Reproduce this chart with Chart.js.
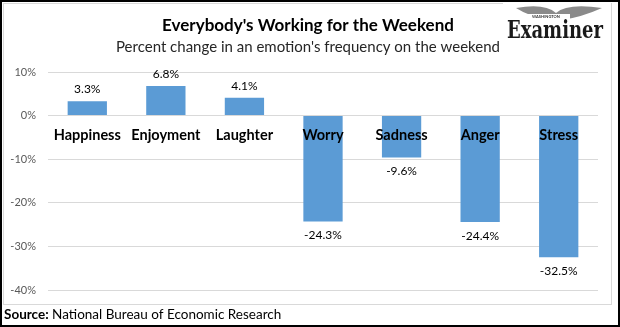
<!DOCTYPE html>
<html>
<head>
<meta charset="utf-8">
<script src="https://cdn.jsdelivr.net/npm/chart.js@4.4.0/dist/chart.umd.min.js"></script>
<style>
  html, body { margin: 0; padding: 0; background: #fff; }
  #wrap { width: 620px; height: 327px; position: relative; }
</style>
</head>
<body>
<div id="wrap">
  <canvas id="weekendChart" width="620" height="327"></canvas>
</div>
<script>
const emotions = ["Happiness", "Enjoyment", "Laughter", "Worry", "Sadness", "Anger", "Stress"];
const pctChange = [3.3, 6.8, 4.1, -24.3, -9.6, -24.4, -32.5];
const yTicks = [10, 0, -10, -20, -30, -40];

const TITLE = "Everybody's Working for the Weekend";
const SUBTITLE = "Percent change in an emotion's frequency on the weekend";
const SOURCE_LABEL = "Source:";
const SOURCE_TEXT = " National Bureau of Economic Research";

const FONT = "Lato, 'Open Sans', sans-serif";
const BAR_COLOR = '#5B9BD5';

// frame, titles, logo and source line
const decorations = {
  id: 'decorations',
  beforeDraw(chart) {
    const ctx = chart.ctx;
    ctx.save();
    ctx.fillStyle = '#fff';
    ctx.fillRect(0, 0, 620, 327);
    ctx.strokeStyle = '#d9d9d9';
    ctx.lineWidth = 1;
    ctx.strokeRect(3.5, 3.5, 608, 301);
    ctx.strokeStyle = '#000';
    ctx.lineWidth = 2;
    ctx.strokeRect(1, 1, 618, 325);
    ctx.restore();
  },
  afterDraw(chart) {
    const ctx = chart.ctx;
    ctx.save();
    ctx.textBaseline = 'middle';
    ctx.textAlign = 'center';
    ctx.fillStyle = '#000';
    ctx.font = `bold 17px ${FONT}`;
    ctx.fillText(TITLE, 308, 26);
    ctx.fillStyle = '#262626';
    ctx.font = `15px ${FONT}`;
    ctx.fillText(SUBTITLE, 308, 47);

    // source line
    ctx.textAlign = 'left';
    ctx.fillStyle = '#000';
    ctx.font = `bold 13.5px ${FONT}`;
    ctx.fillText(SOURCE_LABEL, 4, 315);
    const w = ctx.measureText(SOURCE_LABEL).width;
    ctx.font = `13.5px ${FONT}`;
    ctx.fillText(SOURCE_TEXT, 4 + w, 315);

    // logo
    ctx.fillStyle = '#fff';
    ctx.fillRect(503, 2, 108, 44);
    ctx.fillStyle = '#8a8a8a';
    ctx.beginPath();
    ctx.moveTo(516, 8);
    ctx.quadraticCurveTo(545, 3, 556, 13);
    ctx.quadraticCurveTo(567, 3, 602, 8);
    ctx.quadraticCurveTo(582, 17, 562, 20);
    ctx.lineTo(550, 20);
    ctx.quadraticCurveTo(530, 17, 516, 8);
    ctx.fill();
    ctx.fillStyle = '#fff';
    ctx.fillRect(526, 14, 44, 6);
    ctx.fillStyle = '#333';
    ctx.font = `bold 4px ${FONT}`;
    ctx.textAlign = 'center';
    ctx.fillText('WASHINGTON', 546, 17);
    ctx.font = `bold 24px 'DejaVu Serif', serif`;
    ctx.translate(555, 32);
    const lw = ctx.measureText('Examiner').width;
    ctx.scale(96 / lw, 1);
    ctx.fillStyle = '#1a1a1a';
    ctx.fillText('Examiner', 0, 0);
    ctx.restore();
  }
};

// category names on the zero line and value labels
const barLabels = {
  id: 'barLabels',
  afterDatasetsDraw(chart) {
    const ctx = chart.ctx;
    const meta = chart.getDatasetMeta(0);
    const y0 = chart.scales.y.getPixelForValue(0);
    ctx.save();
    ctx.textAlign = 'center';
    ctx.textBaseline = 'middle';
    meta.data.forEach((bar, i) => {
      ctx.fillStyle = '#000';
      ctx.font = `bold 14.5px ${FONT}`;
      ctx.fillText(emotions[i], bar.x, y0 + 20);
      const v = pctChange[i];
      ctx.font = `12px ${FONT}`;
      ctx.fillStyle = '#000';
      const y = v >= 0 ? bar.y - 12 : bar.y + 14;
      ctx.fillText(v.toFixed(1) + '%', bar.x, y);
    });
    ctx.restore();
  }
};

new Chart(document.getElementById('weekendChart'), {
  type: 'bar',
  data: {
    labels: emotions,
    datasets: [{
      data: pctChange,
      backgroundColor: BAR_COLOR,
      categoryPercentage: 1,
      barPercentage: 0.5
    }]
  },
  options: {
    responsive: false,
    animation: false,
    layout: { padding: { left: 0, top: 72, right: 22, bottom: 37 } },
    plugins: { legend: { display: false }, tooltip: { enabled: false } },
    scales: {
      x: { display: false },
      y: {
        min: -40,
        max: 10,
        afterFit(scale) { scale.width = 48; },
        afterBuildTicks(scale) { scale.ticks = yTicks.map(v => ({ value: v })); },
        border: { display: false },
        grid: { color: '#d9d9d9', drawTicks: false },
        ticks: {
          padding: 12,
          color: '#595959',
          font: { family: FONT, size: 11 },
          callback: v => v + '%'
        }
      }
    }
  },
  plugins: [decorations, barLabels]
});
</script>
</body>
</html>
